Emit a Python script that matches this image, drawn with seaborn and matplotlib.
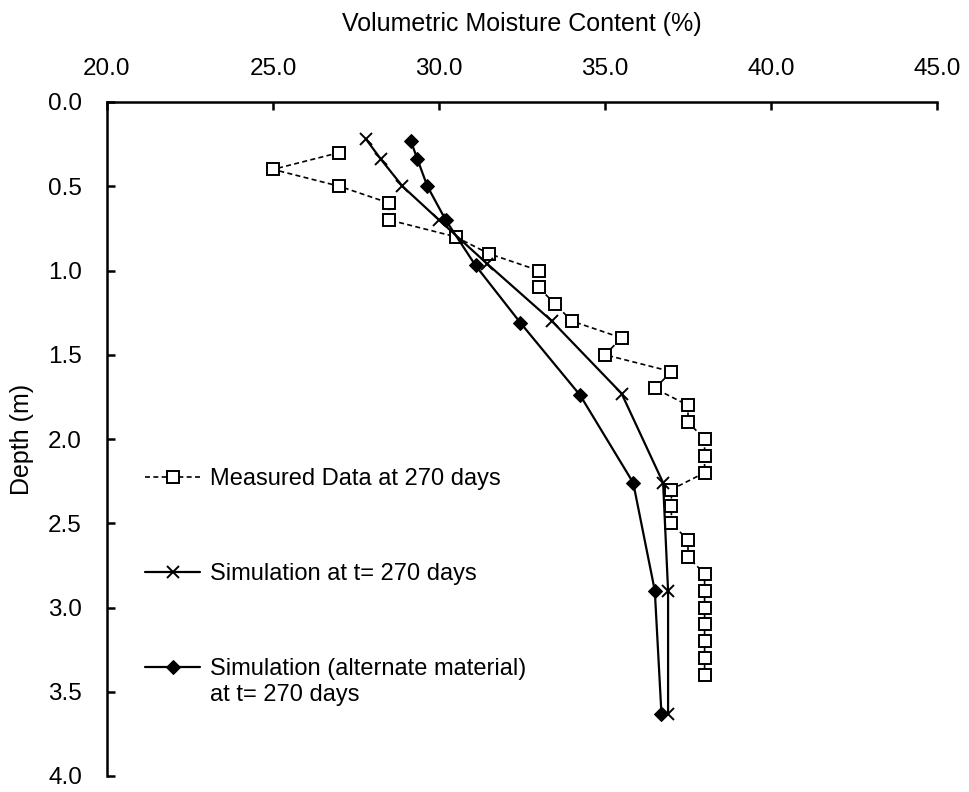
import matplotlib
matplotlib.use("Agg")
import matplotlib.pyplot as plt
import seaborn as sns
import pandas as pd

# ---- data ----
meas_depth = [0.3, 0.4, 0.5, 0.6, 0.7, 0.8, 0.9, 1.0, 1.1, 1.2, 1.3, 1.4, 1.5, 1.6,
              1.7, 1.8, 1.9, 2.0, 2.1, 2.2, 2.3, 2.4, 2.5, 2.6, 2.7, 2.8, 2.9, 3.0,
              3.1, 3.2, 3.3, 3.4]
meas_moist = [27.0, 25.0, 27.0, 28.5, 28.5, 30.5, 31.5, 33.0, 33.0, 33.5, 34.0, 35.5,
              35.0, 37.0, 36.5, 37.5, 37.5, 38.0, 38.0, 38.0, 37.0, 37.0, 37.0, 37.5,
              37.5, 38.0, 38.0, 38.0, 38.0, 38.0, 38.0, 38.0]

sim_depth = [0.22, 0.34, 0.50, 0.70, 0.96, 1.30, 1.73, 2.26, 2.90, 3.63]
sim_moist = [27.8, 28.25, 28.9, 30.0, 31.45, 33.4, 35.5, 36.75, 36.9, 36.9]

alt_depth = [0.23, 0.34, 0.50, 0.70, 0.97, 1.31, 1.74, 2.26, 2.90, 3.63]
alt_moist = [29.15, 29.35, 29.65, 30.2, 31.1, 32.45, 34.25, 35.85, 36.5, 36.7]

label_meas = "Measured Data at 270 days"
label_sim = "Simulation at t= 270 days"
label_alt = "Simulation (alternate material)"
label_alt2 = "at t= 270 days"

x_ticks = [20.0, 25.0, 30.0, 35.0, 40.0, 45.0]
y_ticks = [0.0, 0.5, 1.0, 1.5, 2.0, 2.5, 3.0, 3.5, 4.0]

sns.set_theme(style="white")
plt.rcParams['font.family'] = ['Liberation Sans', 'DejaVu Sans']
plt.rcParams['text.color'] = 'black'
plt.rcParams['axes.labelcolor'] = 'black'
plt.rcParams['xtick.color'] = 'black'
plt.rcParams['ytick.color'] = 'black'

FS = 17.5

fig = plt.figure(figsize=(9.7, 7.92), dpi=100)
ax = fig.add_axes([107/970, 1-776/792, (937-107)/970, (776-102)/792])

df_m = pd.DataFrame({"x": meas_moist, "y": meas_depth})
df_s = pd.DataFrame({"x": sim_moist, "y": sim_depth})
df_a = pd.DataFrame({"x": alt_moist, "y": alt_depth})

sns.lineplot(data=df_m, x="x", y="y", ax=ax, sort=False, estimator=None, orient="y",
             color="black", linewidth=1.2, linestyle=(0, (3, 2)), marker="s",
             markersize=8, markerfacecolor="white", markeredgecolor="black",
             markeredgewidth=1.4, label=label_meas)
sns.lineplot(data=df_s, x="x", y="y", ax=ax, sort=False, estimator=None, orient="y",
             color="black", linewidth=1.6, marker="x", markersize=9,
             markeredgewidth=1.4, markeredgecolor="black", label=label_sim)
sns.lineplot(data=df_a, x="x", y="y", ax=ax, sort=False, estimator=None, orient="y",
             color="black", linewidth=1.6, marker="D", markersize=7,
             markerfacecolor="black", markeredgecolor="black", label=label_alt)

ax.set_xlim(20, 45)
ax.set_ylim(4.0, 0.0)
ax.set_xticks(x_ticks)
ax.set_xticklabels([f"{v:.1f}" for v in x_ticks])
ax.set_yticks(y_ticks)
ax.set_yticklabels([f"{v:.1f}" for v in y_ticks])
ax.xaxis.tick_top()
ax.xaxis.set_label_position("top")

ax.set_xlabel("Volumetric Moisture Content (%)", fontsize=18, labelpad=19, color="black")
ax.set_ylabel("Depth (m)", fontsize=18, labelpad=10, color="black")

for side in ["right", "bottom"]:
    ax.spines[side].set_visible(False)
for side in ["top", "left"]:
    ax.spines[side].set_visible(True)
    ax.spines[side].set_color("black")
    ax.spines[side].set_linewidth(1.8)

ax.tick_params(axis="x", which="both", direction="in", length=6, width=1.8,
               top=True, bottom=False, labeltop=True, labelbottom=False,
               labelsize=FS, pad=16, colors="black")
ax.tick_params(axis="y", which="both", direction="in", length=6, width=1.8,
               left=True, right=False, labelsize=FS, pad=18, colors="black")
ax.grid(False)

leg = ax.legend(loc="upper left", bbox_to_anchor=((145-107)/830, (776-468)/674),
                frameon=False, fontsize=17, handlelength=2.35, handletextpad=0.42,
                labelspacing=3.1, borderpad=0, borderaxespad=0)
for t in leg.get_texts():
    t.set_color("black")

fig.canvas.draw()
t3 = leg.get_texts()[2]
bb = t3.get_window_extent()
inv = fig.transFigure.inverted()
x0, y0 = inv.transform((bb.x0, bb.y0 - 26))
fig.text(x0, y0, label_alt2, fontsize=17, ha="left", va="bottom", color="black")

fig.savefig("out.png", dpi=100, facecolor="white")
